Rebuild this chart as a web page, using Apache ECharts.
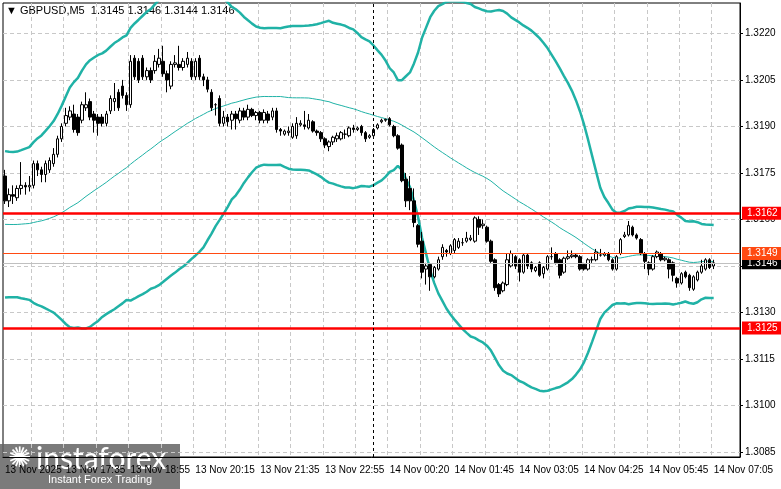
<!DOCTYPE html>
<html><head><meta charset="utf-8">
<script src="https://cdn.jsdelivr.net/npm/echarts@6/dist/echarts.min.js"></script>
<style>html,body{margin:0;padding:0;background:#fff}#c{width:781px;height:489px}</style>
</head><body><div id="c"></div>
<script>
// candles: [open, close, low, high]
const candles = [
[1.3174,1.3166,1.3165,1.3176],[1.3166,1.3168,1.3164,1.3170],[1.3168,1.31675,1.3165,1.3171],[1.3167,1.3170,1.3166,1.3171],
[1.3170,1.3171,1.3168,1.31785],[1.3171,1.31705,1.3168,1.3172],[1.31705,1.3171,1.3169,1.3174],[1.3171,1.3178,1.3170,1.3179],
[1.3178,1.3176,1.3174,1.3179],[1.3176,1.31745,1.3172,1.3177],[1.31745,1.3178,1.3172,1.3179],[1.3176,1.3179,1.3175,1.3180],
[1.3178,1.3181,1.3177,1.3183],[1.3181,1.3186,1.3180,1.3187],[1.3186,1.3190,1.3185,1.3191],[1.3191,1.31935,1.3190,1.3196],
[1.3193,1.3195,1.3192,1.31965],[1.3194,1.3189,1.3188,1.3197],[1.3193,1.3188,1.3187,1.3194],[1.3192,1.3197,1.3191,1.3198],
[1.3196,1.3197,1.3195,1.3201],[1.3198,1.3193,1.3192,1.3199],[1.3194,1.3192,1.3188,1.3195],[1.3193,1.3191,1.3187,1.3194],
[1.3193,1.3191,1.3190,1.3194],[1.3191,1.3194,1.3190,1.3195],[1.3195,1.3199,1.3194,1.3200],[1.3198,1.3199,1.3195,1.3204],
[1.3201,1.3196,1.3195,1.3202],[1.3203,1.3200,1.3199,1.3205],[1.3200,1.3197,1.3195,1.3201],[1.3197,1.3211,1.3196,1.3213],
[1.3212,1.3206,1.3205,1.3213],[1.3211,1.3205,1.3204,1.3212],[1.3212,1.3206,1.3205,1.3213],[1.3206,1.3208,1.3205,1.3209],
[1.3208,1.3205,1.3204,1.3209],[1.3208,1.3211,1.3207,1.3213],[1.3210,1.3212,1.3209,1.3215],[1.3211,1.3207,1.3206,1.3216],
[1.3207,1.3205,1.3201,1.3208],[1.3203,1.3210,1.3202,1.3211],[1.3210,1.32105,1.3209,1.3213],[1.3210,1.3209,1.3208,1.3216],
[1.3209,1.3211,1.3208,1.3212],[1.3210,1.3212,1.3209,1.3214],[1.3211,1.3206,1.3205,1.3212],[1.3206,1.3211,1.3205,1.3212],
[1.3212,1.3206,1.3205,1.3213],[1.3206,1.3205,1.3203,1.3207],[1.3205,1.3202,1.3201,1.3206],[1.3201,1.3196,1.3195,1.3202],
[1.3197,1.3197,1.31935,1.31975],[1.3199,1.3191,1.3190,1.3200],[1.3191,1.3193,1.3190,1.3195],[1.3193,1.31915,1.3190,1.3194],
[1.3192,1.3194,1.3189,1.3195],[1.3194,1.31925,1.3189,1.3195],[1.3192,1.3195,1.3191,1.3196],[1.3195,1.3193,1.3192,1.3196],
[1.3193,1.31955,1.3192,1.3197],[1.31955,1.31935,1.3193,1.3196],[1.31935,1.31945,1.3192,1.3195],[1.31945,1.3192,1.3191,1.3195],
[1.3192,1.31945,1.3191,1.31955],[1.3194,1.3192,1.3191,1.3195],[1.3193,1.3195,1.3192,1.3196],[1.3195,1.3189,1.3188,1.3196],
[1.3189,1.31885,1.3187,1.31895],[1.31875,1.31885,1.3187,1.3189],[1.3188,1.31885,1.3187,1.3190],[1.31865,1.3190,1.3186,1.3191],
[1.3187,1.3191,1.3186,1.3193],[1.31905,1.3191,1.3190,1.3192],[1.31905,1.3190,1.3189,1.3195],[1.31895,1.3192,1.3189,1.3194],
[1.31915,1.31885,1.3188,1.3192],[1.31885,1.3188,1.3187,1.3189],[1.3188,1.3186,1.3185,1.31885],[1.3186,1.3184,1.3183,1.31865],
[1.31835,1.3185,1.3182,1.31855],[1.3185,1.31865,1.3184,1.3187],[1.3186,1.3187,1.3185,1.3188],[1.3186,1.3188,1.31855,1.31885],
[1.31875,1.31875,1.3186,1.3189],[1.3187,1.31895,1.31865,1.3190],[1.31895,1.3189,1.3188,1.31905],[1.3189,1.31895,1.31885,1.3190],
[1.3190,1.3188,1.3187,1.31905],[1.3188,1.3186,1.3185,1.31885],[1.31865,1.3187,1.3186,1.31875],[1.3187,1.3189,1.31865,1.31895],
[1.31895,1.31905,1.3189,1.3191],[1.31915,1.3192,1.3191,1.31925],[1.3192,1.31923,1.31915,1.31925],[1.31925,1.31905,1.3190,1.3193],
[1.3190,1.3187,1.31865,1.31905],[1.3187,1.3183,1.31825,1.31875],[1.3184,1.31725,1.3172,1.31845],[1.3173,1.3166,1.3164,1.3175],
[1.3170,1.3166,1.3163,1.3174],[1.3166,1.3159,1.31575,1.3170],[1.3158,1.3152,1.3151,1.31585],[1.3153,1.3143,1.3141,1.3156],
[1.3144,1.3145,1.3139,1.3146],[1.31455,1.31415,1.3137,1.3146],[1.31415,1.31445,1.3141,1.3145],[1.3144,1.3147,1.31435,1.3148],
[1.3148,1.3151,1.3147,1.3152],[1.3150,1.31495,1.3148,1.31505],[1.3149,1.31515,1.31485,1.3152],[1.3150,1.31535,1.3149,1.3154],
[1.3151,1.3153,1.31505,1.3154],[1.31525,1.31525,1.31515,1.3154],[1.3153,1.3154,1.31525,1.3156],[1.31535,1.3154,1.3153,1.3155],
[1.3153,1.31605,1.31525,1.3161],[1.3160,1.31575,1.3155,1.3161],[1.3158,1.31585,1.3157,1.3160],[1.31575,1.3153,1.31525,1.3158],
[1.3153,1.31465,1.3146,1.31535],[1.3147,1.3138,1.3137,1.31475],[1.3139,1.3136,1.3135,1.31395],[1.3137,1.31395,1.31365,1.3140],
[1.3139,1.3147,1.31385,1.3149],[1.3145,1.3149,1.31445,1.3150],[1.3148,1.3145,1.3144,1.31485],[1.3147,1.3143,1.3140,1.31475],
[1.3143,1.31485,1.31425,1.3149],[1.31485,1.3145,1.3144,1.3149],[1.3146,1.3144,1.3143,1.31465],[1.31435,1.31445,1.3143,1.3145],
[1.3146,1.3142,1.31415,1.31465],[1.31425,1.31445,1.3141,1.3145],[1.3144,1.3148,1.31435,1.31485],[1.3148,1.3148,1.3147,1.3151],
[1.3149,1.3146,1.31455,1.31495],[1.3147,1.3142,1.3141,1.31475],[1.3143,1.31475,1.31425,1.3148],[1.31475,1.3148,1.3147,1.3150],
[1.3148,1.31485,1.31475,1.3150],[1.31485,1.3148,1.31475,1.3149],[1.3148,1.3144,1.31435,1.31485],[1.31455,1.3144,1.31435,1.3146],
[1.3144,1.3147,1.31435,1.31475],[1.3147,1.3147,1.3146,1.3148],[1.3147,1.31495,1.31465,1.31505],[1.31485,1.31485,1.3148,1.31505],
[1.31485,1.3149,1.3148,1.31495],[1.3149,1.3147,1.31465,1.31495],[1.3147,1.3144,1.31435,1.31475],[1.3144,1.3148,1.31435,1.31485],
[1.3149,1.31535,1.31485,1.3154],[1.31545,1.3155,1.3154,1.3156],[1.3155,1.3158,1.31545,1.31595],[1.31575,1.3155,1.31545,1.3158],
[1.3155,1.3154,1.31535,1.31555],[1.31535,1.3149,1.31485,1.3154],[1.3149,1.31465,1.3144,1.31495],[1.3146,1.3144,1.3142,1.31465],
[1.3144,1.3148,1.31435,1.31485],[1.3148,1.31495,1.31475,1.3150],[1.3149,1.3147,1.31465,1.31495],[1.3147,1.31475,1.31465,1.3148],
[1.3147,1.3144,1.3141,1.31475],[1.3146,1.3142,1.3140,1.31465],[1.3141,1.31395,1.3138,1.31415],[1.31395,1.31425,1.3139,1.3143],
[1.3143,1.31415,1.3141,1.31435],[1.3142,1.3138,1.3137,1.31425],[1.31375,1.31415,1.3137,1.3142],[1.31405,1.3143,1.3140,1.31435],
[1.3143,1.3145,1.31425,1.3147],[1.3144,1.3147,1.31435,1.31475],[1.3147,1.31445,1.3144,1.31475],[1.3145,1.3146,1.3144,1.3147]
];
// closes before the visible window (for the Bollinger bands)
const warmupCloses = [1.3170,1.3168,1.3169,1.3166,1.3165,1.3166,1.3163,1.3161,1.3162,1.3159,1.3158,1.3156,1.3157,1.3154,1.3152,1.3150,1.3151,1.3149,1.3147,1.3146,1.3147,1.3145,1.3148,1.3146,1.3149,1.3148,1.3150,1.3152,1.3151,1.3153,1.3155,1.3154,1.3156,1.3158,1.3157,1.3159,1.3161,1.3160,1.3162,1.3164,1.3163,1.3165,1.3166,1.3168,1.3167,1.3169,1.3170,1.3172,1.3171];
const tickLabels = {0:'13 Nov 2025',15:'13 Nov 17:35',31:'13 Nov 18:55',47:'13 Nov 20:15',63:'13 Nov 21:35',79:'13 Nov 22:55',95:'14 Nov 00:20',111:'14 Nov 01:45',127:'14 Nov 03:05',143:'14 Nov 04:25',159:'14 Nov 05:45',175:'14 Nov 07:05'};
const priceTicks = [1.3085,1.3100,1.3115,1.3130,1.3145,1.3160,1.3175,1.3190,1.3205,1.3220];
const levels = {res:1.3162, mid:1.3149, cur:1.3146, sup:1.3125};
const emptySlots = 6; // chart shift space on the right

const cats = [];
for (let i = 0; i < candles.length + emptySlots; i++) cats.push(String(i));
const allCloses = warmupCloses.concat(candles.map(c => c[1]));
const P = 50, D = 3, up = [], md = [], lo = [];
for (let i = 0; i < candles.length; i++) {
  const end = warmupCloses.length + i;
  const w = allCloses.slice(end - P + 1, end + 1);
  const m = w.reduce((a, b) => a + b, 0) / P;
  const sd = Math.sqrt(w.reduce((a, b) => a + (b - m) * (b - m), 0) / P);
  md.push(m); up.push(m + D * sd); lo.push(m - D * sd);
}
const teal = '#20b2a6';
const FONT = 'Liberation Sans';
const lvlLabel = (bg) => ({show:true, position:'end', distance:2, formatter:p=>p.value.toFixed(4), backgroundColor:bg, color:'#fff', fontSize:10, fontFamily:FONT, padding:[2,5,1,5]});
const chart = echarts.init(document.getElementById('c'));
chart.setOption({
  animation:false,
  grid:{left:3, right:41, top:3, bottom:32, show:true, borderColor:'#000', borderWidth:1, containLabel:false, outerBoundsMode:'none'},
  xAxis:{type:'category', data:cats, boundaryGap:true,
    axisLine:{lineStyle:{color:'#000'}}, axisTick:{show:false},
    axisLabel:{interval:(i)=>tickLabels[i]!==undefined, formatter:(v)=>tickLabels[+v]||'', align:'left', margin:8, color:'#000', fontSize:10, fontFamily:FONT},
    splitLine:{show:true, interval:(i)=>(i+1)%8===0, lineStyle:{color:'#c8c8c8', type:[4,3]}}},
  yAxis:{type:'value', position:'right', min:1.30834, max:1.32298,
    axisLine:{show:true, lineStyle:{color:'#000'}},
    axisTick:{show:true, customValues:priceTicks, length:3, lineStyle:{color:'#000'}},
    axisLabel:{customValues:priceTicks, formatter:v=>v.toFixed(4), color:'#000', fontSize:10, fontFamily:FONT, margin:5},
    splitLine:{show:true, lineStyle:{color:'#c8c8c8', type:[4,3]}}},
  series:[
    {type:'line', data:up, symbol:'none', lineStyle:{color:teal, width:2.5}, z:2},
    {type:'line', data:md, symbol:'none', lineStyle:{color:teal, width:1}, z:2},
    {type:'line', data:lo, symbol:'none', lineStyle:{color:teal, width:2.5}, z:2},
    {type:'candlestick', data:candles, barWidth:3, z:3,
     itemStyle:{color:'#fff', color0:'#000', borderColor:'#000', borderColor0:'#000', borderWidth:1},
     markLine:{symbol:'none', silent:true, animation:false, precision:4, data:[
       {yAxis:levels.cur, lineStyle:{color:'#c0c0c0', width:1, type:'solid'}, label:lvlLabel('#000')},
       {yAxis:levels.mid, lineStyle:{color:'#ff4a12', width:1.2, type:'solid'}, label:lvlLabel('#ff4a12')},
       {yAxis:levels.res, lineStyle:{color:'#ff0000', width:2.5, type:'solid'}, label:lvlLabel('#ff0000')},
       {yAxis:levels.sup, lineStyle:{color:'#ff0000', width:2.5, type:'solid'}, label:lvlLabel('#ff0000')},
       {xAxis:'91', lineStyle:{color:'#000', width:1, type:[3,3]}, label:{show:false}}
     ]}}
  ],
  graphic:[
    {type:'text', left:6, top:5, style:{text:'▼ GBPUSD,M5  1.3145 1.3146 1.3144 1.3146', fill:'#000', font:'11px Liberation Sans'}},
    {type:'rect', left:0, top:444, shape:{width:180, height:45}, style:{fill:'rgba(100,100,100,0.85)'}},
    {type:'text', left:8, top:446, style:{text:'✺', fill:'#fff', font:'28px DejaVu Sans'}},
    {type:'text', left:36, top:444, style:{text:'instaforex', fill:'#fff', font:'30px Lato'}},
    {type:'text', left:48, top:474, style:{text:'Instant Forex Trading', fill:'#fff', font:'11px Liberation Sans'}}
  ]
});
</script></body></html>
